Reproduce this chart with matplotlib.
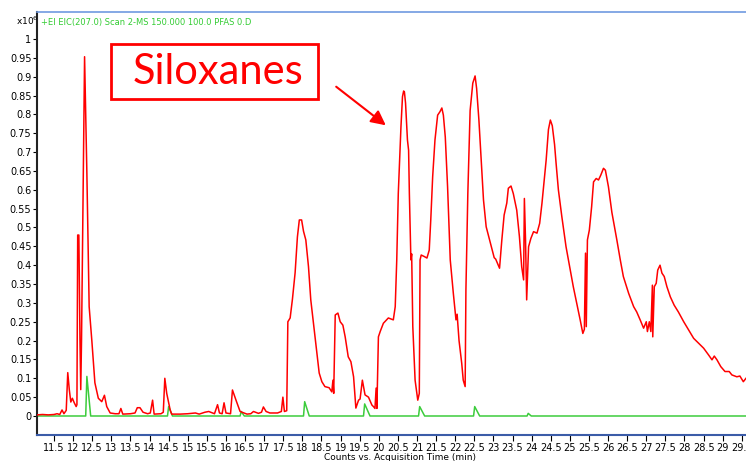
import matplotlib
matplotlib.use("Agg")
import matplotlib.pyplot as plt
from matplotlib.patches import Rectangle, FancyArrowPatch

# ---- data (time in min, counts in x10^6) ----
red_time = [11.06, 11.20, 11.35, 11.50, 11.58, 11.65, 11.71, 11.76, 11.82, 11.86,
            11.90, 11.94, 11.98, 12.03, 12.08, 12.10, 12.12, 12.15, 12.18, 12.20,
            12.22, 12.30, 12.36, 12.42, 12.49, 12.57, 12.66, 12.75, 12.82, 12.88,
            12.97, 13.10, 13.20, 13.25, 13.30, 13.50, 13.62, 13.68, 13.75, 13.83,
            13.95, 14.02, 14.08, 14.12, 14.30, 14.36, 14.40, 14.45, 14.50, 14.54,
            14.58, 14.80, 15.00, 15.20, 15.30, 15.45, 15.55, 15.70, 15.78, 15.83,
            15.90, 15.95, 16.00, 16.12, 16.17, 16.27, 16.37, 16.55, 16.65, 16.72,
            16.85, 16.93, 16.98, 17.05, 17.15, 17.35, 17.45, 17.49, 17.53, 17.59,
            17.62, 17.68, 17.74, 17.81, 17.87, 17.92, 17.98, 18.03, 18.09, 18.16,
            18.22, 18.29, 18.36, 18.44, 18.51, 18.59, 18.70, 18.77, 18.80, 18.82,
            18.86, 18.93, 18.99, 19.06, 19.12, 19.20, 19.27, 19.34, 19.40, 19.47,
            19.51, 19.57, 19.64, 19.73, 19.82, 19.86, 19.90, 19.93, 19.95, 19.99,
            20.04, 20.12, 20.25, 20.38, 20.43, 20.47, 20.51, 20.58, 20.62, 20.65,
            20.67, 20.70, 20.75, 20.78, 20.80, 20.84, 20.86, 20.89, 20.92, 20.95,
            21.02, 21.06, 21.08, 21.11, 21.19, 21.26, 21.32, 21.36, 21.41, 21.47,
            21.54, 21.60, 21.65, 21.69, 21.74, 21.80, 21.87, 21.95, 22.02, 22.05,
            22.10, 22.17, 22.21, 22.26, 22.28, 22.33, 22.39, 22.46, 22.52, 22.56,
            22.62, 22.68, 22.74, 22.81, 22.90, 23.02, 23.06, 23.16, 23.22, 23.28,
            23.35, 23.39, 23.46, 23.52, 23.61, 23.68, 23.74, 23.79, 23.81, 23.84,
            23.87, 23.92, 23.98, 24.05, 24.14, 24.21, 24.27, 24.33, 24.38, 24.44,
            24.49, 24.54, 24.60, 24.64, 24.70, 24.79, 24.90, 25.01, 25.09, 25.18,
            25.27, 25.34, 25.38, 25.41, 25.43, 25.46, 25.51, 25.57, 25.62, 25.69,
            25.75, 25.81, 25.88, 25.93, 26.01, 26.10, 26.23, 26.32, 26.40, 26.54,
            26.67, 26.75, 26.84, 26.93, 27.00, 27.03, 27.08, 27.12, 27.16, 27.17,
            27.21, 27.26, 27.30, 27.36, 27.41, 27.47, 27.54, 27.63, 27.73, 27.84,
            27.98, 28.11, 28.24, 28.37, 28.50, 28.63, 28.72, 28.78, 28.85, 28.95,
            29.06, 29.17, 29.24, 29.37, 29.45, 29.54, 29.61]
red_counts = [0.003, 0.004, 0.003, 0.004, 0.006, 0.004, 0.016, 0.006, 0.015, 0.115,
              0.070, 0.037, 0.047, 0.035, 0.025, 0.030, 0.480, 0.480, 0.200, 0.070,
              0.200, 0.953, 0.645, 0.290, 0.200, 0.088, 0.047, 0.038, 0.055, 0.025,
              0.008, 0.006, 0.006, 0.020, 0.005, 0.006, 0.008, 0.022, 0.022, 0.010,
              0.006, 0.008, 0.042, 0.005, 0.006, 0.010, 0.100, 0.060, 0.035, 0.016,
              0.005, 0.005, 0.006, 0.008, 0.005, 0.010, 0.012, 0.006, 0.030, 0.008,
              0.006, 0.035, 0.008, 0.006, 0.069, 0.040, 0.012, 0.005, 0.006, 0.012,
              0.007, 0.010, 0.024, 0.012, 0.008, 0.008, 0.012, 0.050, 0.012, 0.014,
              0.250, 0.260, 0.310, 0.380, 0.475, 0.520, 0.520, 0.490, 0.467, 0.396,
              0.308, 0.246, 0.184, 0.114, 0.091, 0.078, 0.075, 0.064, 0.095, 0.060,
              0.268, 0.273, 0.250, 0.241, 0.210, 0.157, 0.144, 0.104, 0.021, 0.042,
              0.045, 0.095, 0.056, 0.050, 0.029, 0.025, 0.020, 0.074, 0.020, 0.210,
              0.225, 0.246, 0.260, 0.255, 0.290, 0.414, 0.590, 0.767, 0.847, 0.862,
              0.860, 0.830, 0.732, 0.705, 0.590, 0.414, 0.430, 0.237, 0.167, 0.095,
              0.042, 0.060, 0.414, 0.427, 0.423, 0.419, 0.440, 0.520, 0.635, 0.732,
              0.798, 0.807, 0.817, 0.798, 0.740, 0.608, 0.414, 0.326, 0.255, 0.270,
              0.200, 0.140, 0.095, 0.078, 0.334, 0.590, 0.810, 0.883, 0.902, 0.869,
              0.785, 0.679, 0.573, 0.502, 0.467, 0.420, 0.416, 0.392, 0.467, 0.533,
              0.565, 0.604, 0.610, 0.590, 0.546, 0.476, 0.396, 0.361, 0.577, 0.467,
              0.308, 0.449, 0.471, 0.489, 0.485, 0.511, 0.564, 0.626, 0.679, 0.760,
              0.785, 0.770, 0.720, 0.670, 0.600, 0.529, 0.449, 0.387, 0.343, 0.299,
              0.255, 0.219, 0.230, 0.432, 0.237, 0.467, 0.493, 0.555, 0.621, 0.630,
              0.626, 0.639, 0.657, 0.652, 0.608, 0.540, 0.467, 0.414, 0.370, 0.325,
              0.290, 0.276, 0.255, 0.233, 0.250, 0.224, 0.250, 0.224, 0.347, 0.210,
              0.343, 0.352, 0.387, 0.400, 0.379, 0.370, 0.343, 0.316, 0.294, 0.276,
              0.250, 0.228, 0.206, 0.193, 0.180, 0.162, 0.149, 0.159, 0.149, 0.131,
              0.118, 0.118, 0.109, 0.104, 0.106, 0.091, 0.100]

green_time = [11.06, 12.33, 12.36, 12.46, 14.47, 14.50, 14.60, 16.37, 16.40, 16.48,
              18.03, 18.06, 18.18, 19.60, 19.63, 19.77, 21.04, 21.07, 21.20, 22.48,
              22.51, 22.64, 23.88, 23.91, 23.99, 29.61]
green_counts = [0.0, 0.0, 0.105, 0.0, 0.0, 0.025, 0.0, 0.0, 0.012, 0.0,
                0.0, 0.038, 0.0, 0.0, 0.032, 0.0, 0.0, 0.025, 0.0, 0.0,
                0.025, 0.0, 0.0, 0.007, 0.0, 0.0]

x_ticks = [11.5 + 0.5 * i for i in range(37)]
y_ticks = [0.05 * i for i in range(21)]

header = "+EI EIC(207.0) Scan 2-MS 150.000 100.0 PFAS 0.D"
annotation = "Siloxanes"
xlabel = "Counts vs. Acquisition Time (min)"

# ---- figure ----
W, H = 746, 461
fig = plt.figure(figsize=(W / 100, H / 100), dpi=100)
ax = fig.add_axes([37 / W, (H - 435) / H, (W - 37) / W, (435 - 12) / H])

ax.plot(green_time, green_counts, color="#3ccc3c", lw=1.1, zorder=2)
ax.plot(red_time, red_counts, color="#ff0000", lw=1.1, zorder=3)

ax.set_xlim(11.055, 29.61)
ax.set_ylim(-0.0504, 1.0716)

tick_font = dict(family=["Liberation Sans Narrow", "DejaVu Sans"], size=7)
ax.set_xticks(x_ticks)
ax.set_xticklabels([f"{v:g}" for v in x_ticks], **tick_font)
ax.set_yticks(y_ticks)
ax.set_yticklabels([f"{round(v, 2):g}" for v in y_ticks], **tick_font)
ax.tick_params(axis="x", direction="out", length=4, width=0.8, color="black", pad=2)
ax.tick_params(axis="y", direction="out", length=3, width=0.8, color="black", pad=1)

ax.spines["right"].set_visible(False)
ax.spines["top"].set_color("#6f9ae0")
ax.spines["top"].set_linewidth(1.2)
ax.spines["left"].set_color("#222222")
ax.spines["left"].set_linewidth(1.5)
ax.spines["bottom"].set_color("#3b5ca8")
ax.spines["bottom"].set_linewidth(1.5)

fig.text(400 / W, 1 - 457 / H, xlabel, ha="center", va="center",
         family=["Liberation Sans Narrow", "DejaVu Sans"], size=6.5)
fig.text(27 / W, 1 - 21 / H, r"x10$^{6}$", ha="center", va="center",
         family=["Liberation Sans Narrow", "DejaVu Sans"], size=6.5)
fig.text(41 / W, 1 - 22 / H, header, ha="left", va="center", color="#33cc33",
         family=["Liberation Sans Narrow", "DejaVu Sans"], size=6)

# annotation box and arrow (figure pixel coordinates)
box = Rectangle((111 / W, 1 - 99 / H), (318 - 111) / W, (99 - 44) / H,
                transform=fig.transFigure, fill=False, edgecolor="#ff0000",
                lw=2, zorder=5)
fig.add_artist(box)
fig.text(218 / W, 1 - 72 / H, annotation, ha="center", va="center",
         color="#ff0000", family=["Lato", "DejaVu Sans"], size=30)
arrow = FancyArrowPatch((334 / W, 1 - 85 / H), (388 / W, 1 - 127 / H),
                        transform=fig.transFigure, arrowstyle="-|>",
                        mutation_scale=22, color="#ff0000", lw=1.5)
fig.add_artist(arrow)

fig.savefig("out.png", dpi=100)
